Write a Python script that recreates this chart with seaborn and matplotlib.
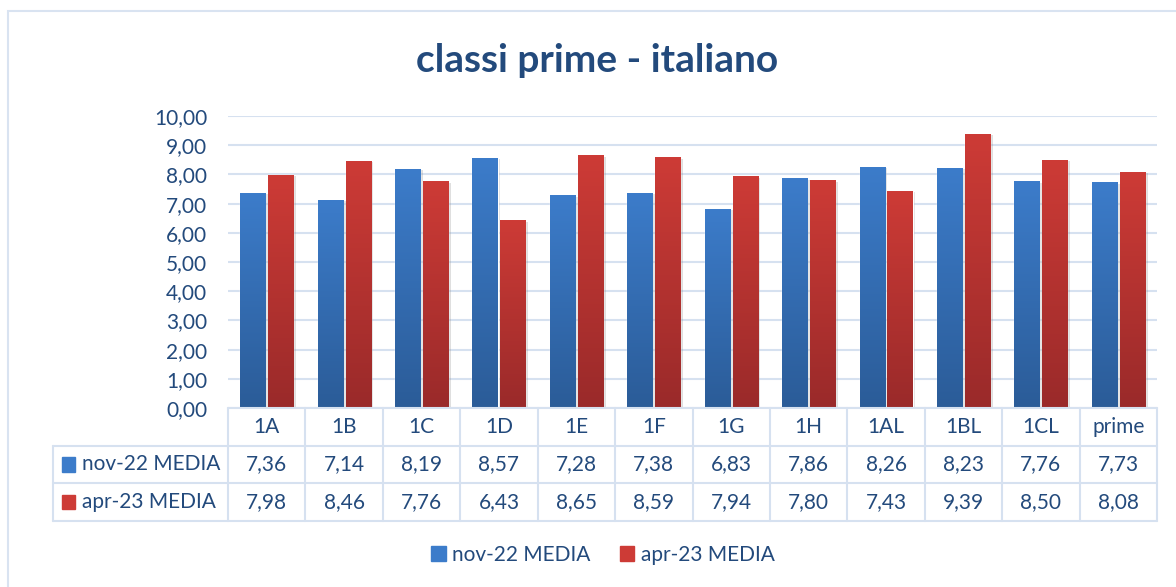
import numpy as np
import pandas as pd
import matplotlib.pyplot as plt
import seaborn as sns
from matplotlib.colors import LinearSegmentedColormap
from matplotlib.patches import Rectangle
from matplotlib import patheffects as pe

# data
classi = ['1A', '1B', '1C', '1D', '1E', '1F', '1G', '1H', '1AL', '1BL', '1CL', 'prime']
nov22 = [7.36, 7.14, 8.19, 8.57, 7.28, 7.38, 6.83, 7.86, 8.26, 8.23, 7.76, 7.73]
apr23 = [7.98, 8.46, 7.76, 6.43, 8.65, 8.59, 7.94, 7.80, 7.43, 9.39, 8.50, 8.08]
serie = ['nov-22 MEDIA', 'apr-23 MEDIA']
titolo = 'classi prime - italiano'

W, H = 1176, 587
TXT = '#234A7C'
GRID = '#D6E1F0'
# (bottom, top) colours of the bar gradients
grad = {serie[0]: ('#2B5C98', '#3C7CCA'), serie[1]: ('#9A2A2A', '#CD3B36')}


def box(x0, y0, x1, y1):
    # pixel box -> figure fraction [left, bottom, width, height]
    return [x0 / W, 1 - y1 / H, (x1 - x0) / W, (y1 - y0) / H]


def fmt(v):
    return f'{v:.2f}'.replace('.', ',')


df = pd.DataFrame({'classe': classi * 2,
                   'media': nov22 + apr23,
                   'serie': [serie[0]] * len(classi) + [serie[1]] * len(classi)})

sns.set_theme(style='white')
plt.rcParams['font.family'] = ['Lato', 'DejaVu Sans']

fig = plt.figure(figsize=(W / 100, H / 100), dpi=100)

# chart border (right and bottom edges fall outside the crop)
fig.add_artist(Rectangle((8 / W, -0.1), 1.2, 1 - 11 / H + 0.1, transform=fig.transFigure,
                         fill=False, edgecolor='#D9E3F1', lw=1.5))

ax = fig.add_axes(box(228, 116, 1157, 408))
sns.barplot(data=df, x='classe', y='media', hue='serie', hue_order=serie,
            palette=[grad[s][1] for s in serie], width=0.72, gap=0.1,
            legend=False, ax=ax, zorder=3)

# gradient fill + soft shadow on every bar
n = len(classi)
for i, p in enumerate(ax.patches[:2 * n]):
    s = serie[i // n]
    cmap = LinearSegmentedColormap.from_list(s, grad[s])
    p.set_path_effects([pe.SimplePatchShadow(offset=(2, -1), alpha=0.25, shadow_rgbFace='gray'),
                        pe.Normal()])
    x0, w, h = p.get_x(), p.get_width(), p.get_height()
    im = ax.imshow(np.linspace(0, 1, 100).reshape(-1, 1), cmap=cmap, origin='lower',
                   extent=[x0, x0 + w, 0, h], aspect='auto', zorder=4)
    im.set_clip_path(p)

ax.set_xlim(-0.5, n - 0.5)
ax.set_ylim(0, 10)
ax.set_yticks(range(0, 11))
ax.set_yticklabels([fmt(v) for v in range(0, 11)], color=TXT, fontsize=15)
ax.tick_params(axis='y', length=0, pad=15)
ax.set_xticks([])
ax.set_xlabel('')
ax.set_ylabel('')
ax.grid(axis='y', color=GRID, lw=1.5, zorder=0)
for sp in ax.spines.values():
    sp.set_visible(False)

# data table
tab = fig.add_axes(box(228, 408, 1157, 521))
tab.set_xlim(-0.5, n - 0.5)
tab.set_ylim(3, 0)
tab.axis('off')
left = -0.5 - (228 - 53) / (929 / n)
kw = dict(color=GRID, lw=1.5, clip_on=False)
tab.plot([-0.5, n - 0.5], [0, 0], **kw)
for y in (1, 2, 3):
    tab.plot([left, n - 0.5], [y, y], **kw)
for k in range(n + 1):
    tab.plot([k - 0.5, k - 0.5], [0, 3], **kw)
tab.plot([left, left], [1, 3], **kw)
for k, c in enumerate(classi):
    tab.text(k, 0.5, c, ha='center', va='center', color=TXT, fontsize=15)
for r, (s, vals) in enumerate(zip(serie, [nov22, apr23])):
    for k, v in enumerate(vals):
        tab.text(k, 1.5 + r, fmt(v), ha='center', va='center', color=TXT, fontsize=15)
    tab.add_patch(Rectangle((left + 0.12, 1.5 + r + 0.19), 0.16, -0.38, color=grad[s][1],
                            clip_on=False))
    tab.text(left + 0.37, 1.5 + r, s, ha='left', va='center', color=TXT, fontsize=15)

# legend
handles = [Rectangle((0, 0), 1, 1, color=grad[s][1]) for s in serie]
fig.legend(handles, serie, loc='center', bbox_to_anchor=(603 / W, 1 - 555 / H), ncol=2,
           frameon=False, fontsize=15, labelcolor=TXT, handlelength=0.7, handleheight=0.7,
           handletextpad=0.3, columnspacing=1.4)

fig.text(597 / W, 1 - 60 / H, titolo, ha='center', va='center', color=TXT,
         fontsize=28, fontweight='bold')

fig.savefig('out.png', dpi=100)
